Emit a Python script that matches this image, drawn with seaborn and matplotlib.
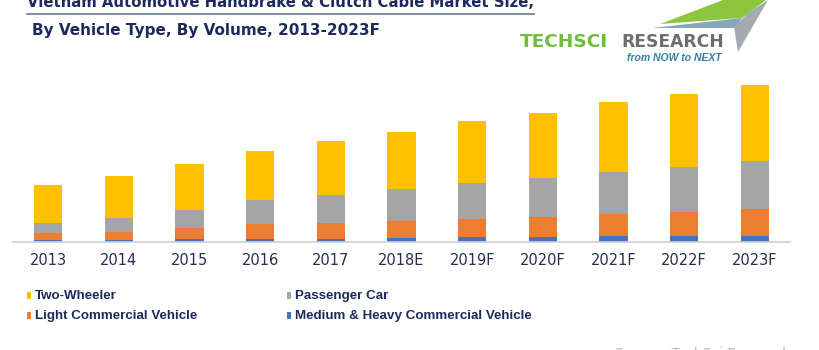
import matplotlib
matplotlib.use("Agg")
import matplotlib.pyplot as plt
import seaborn as sns
import numpy as np
import pandas as pd
from matplotlib.patches import Rectangle, Polygon
from matplotlib.lines import Line2D

years = ["2013", "2014", "2015", "2016", "2017", "2018E", "2019F", "2020F", "2021F", "2022F", "2023F"]
two_wheeler = [38.7, 42.0, 46.7, 49.7, 53.3, 57.0, 61.7, 65.0, 69.3, 72.4, 76.3]
passenger_car = [10.0, 13.6, 17.3, 23.6, 28.0, 32.0, 35.7, 39.0, 42.0, 45.6, 48.0]
lcv = [6.3, 7.7, 11.7, 15.4, 15.7, 17.0, 18.3, 20.3, 22.3, 23.7, 26.4]
mhcv = [2.0, 2.0, 2.3, 2.3, 3.0, 3.3, 4.5, 4.5, 5.5, 5.5, 5.8]
series_names = ["Two-Wheeler", "Passenger Car", "Light Commercial Vehicle", "Medium & Heavy Commercial Vehicle"]
colors = ["#FFC000", "#A5A5A5", "#ED7D31", "#4472C4"]

W, H = 820, 350
sns.set_theme(style="white")
plt.rcParams['font.family'] = ['DejaVu Sans']
fig = plt.figure(figsize=(W / 100, H / 100), dpi=100)
fig.patch.set_facecolor("white")

def fx(px):
    return px / W

def fy(py):
    return 1 - py / H

base_y = 241.5
top_y = 75.0
ax = fig.add_axes([fx(13), fy(base_y), fx(790) - fx(13), (base_y - top_y) / H])
ax.set_facecolor("white")

# stacked bars via cumulative overlays
mh = np.array(mhcv)
lc = mh + np.array(lcv)
pc = lc + np.array(passenger_car)
tw = pc + np.array(two_wheeler)
layers = [tw, pc, lc, mh]
for vals, col in zip(layers, colors):
    df = pd.DataFrame({"year": years, "value": vals})
    sns.barplot(data=df, x="year", y="value", color=col, saturation=1,
                width=0.4, ax=ax, errorbar=None, linewidth=0)

ax.set_xlim(-0.5, len(years) - 0.5)
ax.set_ylim(0, base_y - top_y)
ax.set_xlabel("")
ax.set_ylabel("")
ax.set_yticks([])
for s in ["top", "right", "left"]:
    ax.spines[s].set_visible(False)
ax.spines["bottom"].set_color("#d0d0d0")
ax.spines["bottom"].set_linewidth(1.2)
ax.set_xticks(np.arange(len(years)))
ax.set_xticklabels(years, fontsize=10.5, color="#27304f")
ax.tick_params(axis="x", which="major", length=0, pad=8)
ax.set_xticks(np.arange(-0.5, len(years)), minor=True)
ax.tick_params(axis="x", which="minor", length=5, color="#d0d0d0", width=1.2)

# Titles
title_col = "#1d2a5c"
fig.text(fx(27), fy(7), "Vietnam Automotive Handbrake & Clutch Cable Market Size,",
         fontsize=10.7, fontweight="bold", color=title_col, va="baseline", ha="left")
fig.add_artist(Line2D([fx(27), fx(534)], [fy(14.3), fy(14.3)], color="#7f8fa8", lw=1.5))
fig.text(fx(32), fy(35), "By Vehicle Type, By Volume, 2013-2023F",
         fontsize=11, fontweight="bold", color=title_col, va="baseline", ha="left")

# Logo
fig.add_artist(Polygon([(fx(660), fy(24)), (fx(723), fy(0)), (fx(766), fy(0)), (fx(742), fy(18))],
                       closed=True, color="#8cc63f", lw=0))
fig.add_artist(Polygon([(fx(652), fy(28)), (fx(742), fy(18)), (fx(735), fy(28))],
                       closed=True, color="#86a7b8", lw=0))
fig.add_artist(Polygon([(fx(734), fy(27)), (fx(748), fy(13)), (fx(768), fy(0)), (fx(738), fy(52))],
                       closed=True, color="#a3aab0", lw=0))
fig.text(fx(520), fy(42), "TECHSCI", fontsize=13.3, color="#6cbf3a", fontweight="bold",
         va="center", ha="left")
fig.text(fx(621), fy(42), "RESEARCH", fontsize=12.3, color="#6e6e6e", fontweight="bold",
         va="center", ha="left")
fig.text(fx(722), fy(58), "from NOW to NEXT", fontsize=7.5, color="#2f7fa6", style="italic",
         fontweight="bold", va="center", ha="right", family=["Liberation Sans", "DejaVu Sans"])

# Legend (manual)
leg_font = ["Liberation Sans", "DejaVu Sans"]
leg_pos = [(27, 295.7), (287, 295.7), (27, 315.5), (287, 315.5)]
leg_order = [0, 1, 2, 3]
for (lx, ly), idx in zip(leg_pos, leg_order):
    fig.add_artist(Rectangle((fx(lx), fy(ly + 3.5)), 4.5 / W, 7 / H, color=colors[idx], lw=0))
    fig.text(fx(lx + 8), fy(ly), series_names[idx], fontsize=9.6, fontweight="bold",
             color=title_col, va="center", ha="left", family=leg_font)

fig.text(fx(615), fy(354), "Source: TechSci Research", fontsize=10, color="#b8b8b8",
         va="center", ha="left")

fig.savefig("out.png", dpi=100, facecolor="white")
